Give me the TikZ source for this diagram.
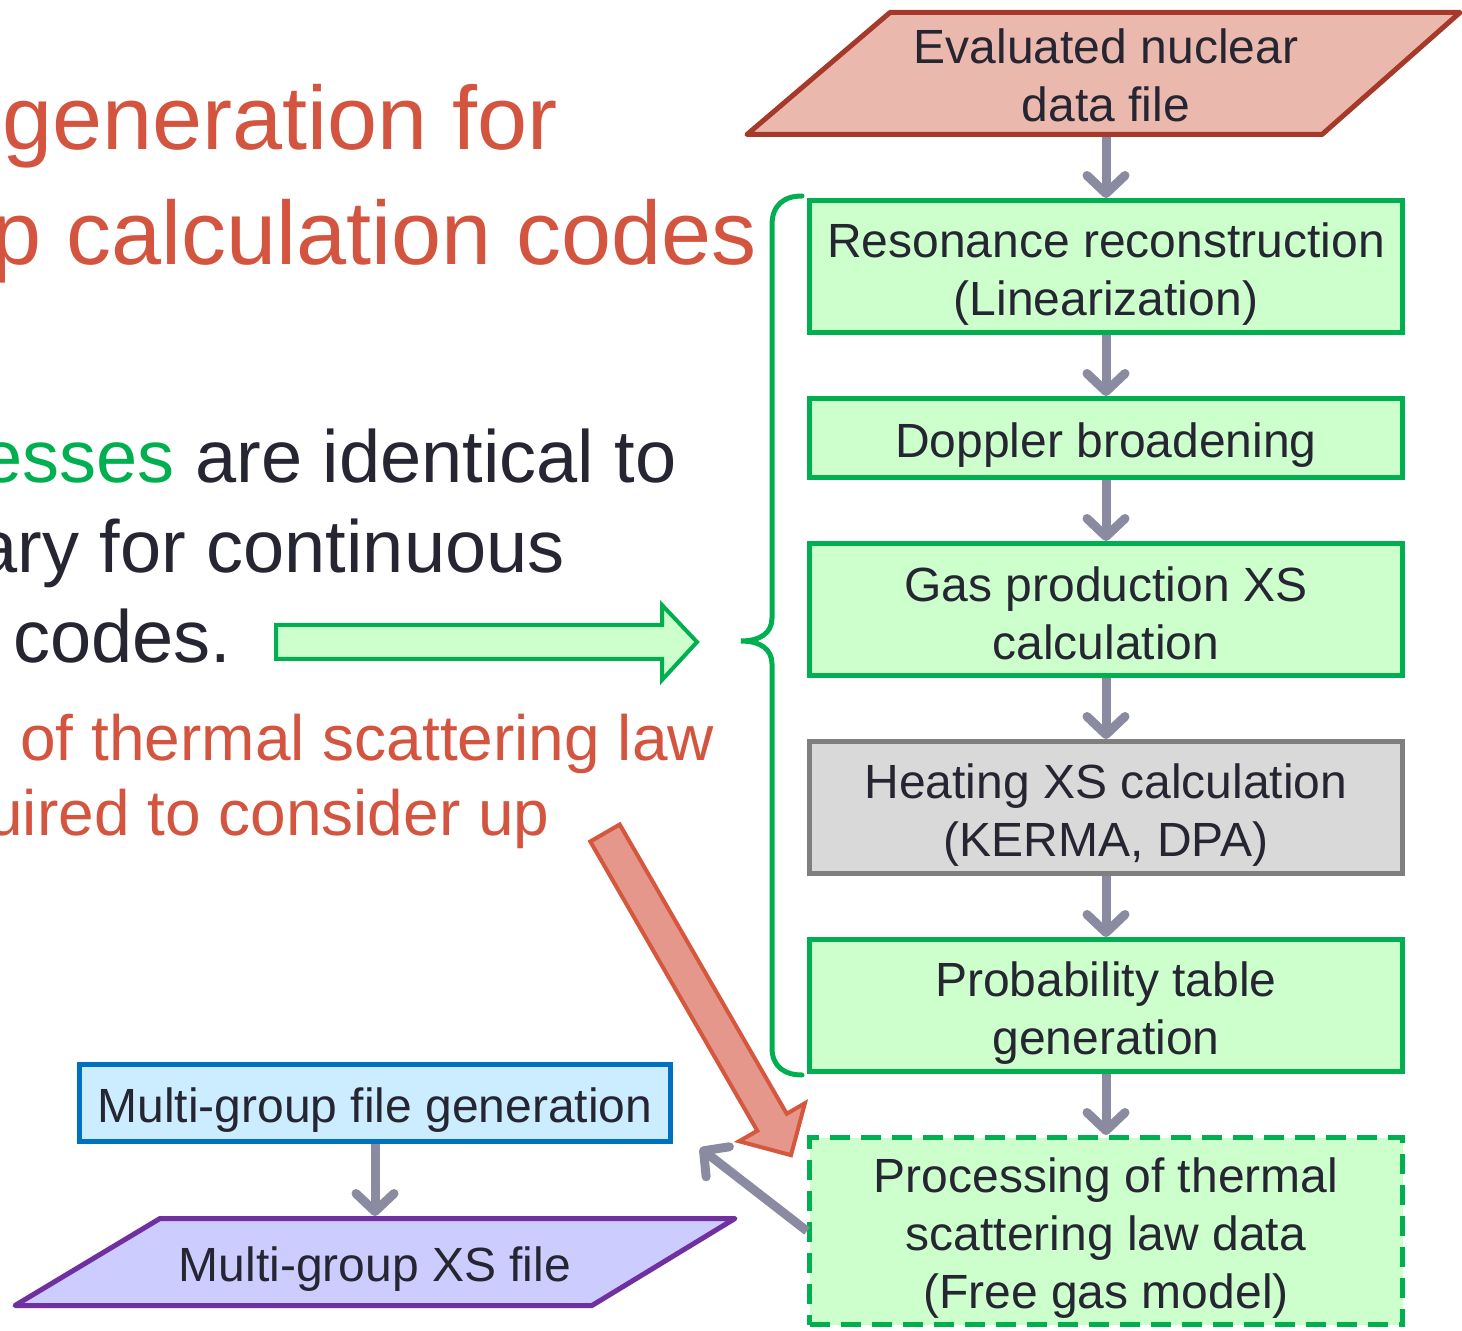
\documentclass[tikz,border=0pt]{standalone}
\usepackage{fontspec}
\setmainfont{Liberation Sans}
\usepackage{tikz}
\usetikzlibrary{
  positioning,
  arrows.meta,
  backgrounds
}
\definecolor{inkdark}{HTML}{262632}
\definecolor{titlered}{HTML}{D4553F}
\definecolor{boxgreen}{HTML}{00B050}
\definecolor{procfill}{HTML}{CCFFCC}
\definecolor{boxgray}{HTML}{7F7F7F}
\definecolor{grayfill}{HTML}{D9D9D9}
\definecolor{flowgray}{HTML}{8A8BA1}
\definecolor{endfdraw}{HTML}{A5392A}
\definecolor{endffill}{HTML}{EBB8AE}
\definecolor{mgblue}{HTML}{0070C0}
\definecolor{mgfill}{HTML}{CCECFF}
\definecolor{mgxsdraw}{HTML}{7030A0}
\definecolor{mgxsfill}{HTML}{CCCCFF}
\definecolor{warnred}{HTML}{D5573D}
\definecolor{warnfill}{HTML}{E4978A}
% strut that pushes box text down a little
\newcommand{\lift}{\rule{0pt}{24.5pt}}
\tikzset{
  node distance=30.5pt,
  every node/.style={font=\fontsize{24}{29}\selectfont, text=inkdark},
  proc/.style={rectangle, draw=boxgreen, fill=procfill, line width=2.5pt,
    minimum width=296.5pt, minimum height=66pt, align=center, inner sep=2pt},
  tslbox/.style={proc, dash pattern=on 10pt off 5.5pt},
  filetext/.style={rectangle, align=center, inner sep=0pt, outer sep=0pt},
  endfshape/.style={draw=endfdraw, fill=endffill, line width=2.5pt, line join=round},
  mgxsshape/.style={draw=mgxsdraw, fill=mgxsfill, line width=2.5pt, line join=round},
  flow/.style={draw=flowgray, line width=4.5pt,
    -{Straight Barb[length=9pt, width=19pt, round]}},
  bracegreen/.style={draw=boxgreen, line width=2.5pt, line cap=round},
  greenblock/.style={draw=boxgreen, fill=procfill, line width=2pt},
  redblock/.style={draw=warnred, fill=warnfill, line width=2pt},
  titletext/.style={anchor=base west, inner sep=0pt, text=titlered,
    font=\fontsize{45}{54}\selectfont},
  bodytext/.style={anchor=base west, inner sep=0pt,
    font=\fontsize{37}{44}\selectfont},
  notetext/.style={anchor=base west, inner sep=0pt, text=titlered,
    font=\fontsize{32}{38}\selectfont}
}
\begin{document}
\begin{tikzpicture}[x=0.5pt, y=-0.5pt]
  \useasboundingbox (0,0) rectangle (1462,1331);
  \clip (0,0) rectangle (1462,1331);

  % slide text, cut off at the left
  \node[titletext] (head1) at (2,150) {generation for};
  \node[titletext] (head2) at (-9,265) {p calculation codes};
  \node[bodytext] (line1) at (-19,483) {\textcolor{boxgreen}{esses} are identical to};
  \node[bodytext] (line2) at (-24,573) {ary for continuous};
  \node[bodytext] (line3) at (13,662) {codes.};
  \node[notetext] (note1) at (20,760) {of thermal scattering law};
  \node[notetext] (note2) at (-13,835) {uired to consider up};

  % processing chain
  \node[proc] (res) at (1106,266.5) {\lift Resonance reconstruction\\(Linearization)};
  \node[proc, below=of res, minimum height=39.5pt] (dop) {\lift Doppler broadening};
  \node[proc, below=of dop] (gas) {\rule{0pt}{21pt}Gas production XS\\calculation};
  \node[proc, below=of gas, draw=boxgray, fill=grayfill] (heat) {\lift Heating XS calculation\\(KERMA, DPA)};
  \node[proc, below=of heat] (ptab) {\lift Probability table\\generation};
  \node[tslbox, below=of ptab, minimum height=93.5pt] (tsl) {\lift Processing of thermal\\scattering law data\\(Free gas model)};
  \node[filetext, above=of res, minimum height=63.5pt] (endf) {\rule{0pt}{19.5pt}Evaluated nuclear\\data file};

  \node[proc, draw=mgblue, fill=mgfill, minimum width=295.5pt, minimum height=38.5pt] (mgen) at (375,1103) {\lift Multi-group file generation};
  \node[filetext, below=36pt of mgen, minimum height=46pt] (mgxs) {\lift Multi-group XS file};
  \coordinate (back) at (700,1148);

  \begin{scope}[on background layer]
    \draw[endfshape, shift={(endf.center)}] (-359,61) -- (216,61) -- (354,-61) -- (-216,-61) -- cycle;
    \draw[mgxsshape, shift={(mgxs.center)}] (-360,43.5) -- (217,43.5) -- (360,-43.5) -- (-215,-43.5) -- cycle;
  \end{scope}

  \draw[flow] (endf) -- (res);
  \foreach \a/\b in {res/dop, dop/gas, gas/heat, heat/ptab, ptab/tsl}
    \draw[flow] (\a) -- (\b);
  \draw[flow] (mgen) -- (mgxs);
  \draw[flow] (tsl.west) -- (back);

  % brace round the identical steps
  \draw[bracegreen] (802,196) .. controls (784,196) and (772,205) .. (772,225)
    -- (772,618) .. controls (772,633) and (760,641) .. (741,641)
    .. controls (760,641) and (772,649) .. (772,664)
    -- (772,1048) .. controls (772,1066) and (784,1075) .. (802,1075);

  % block arrows
  \draw[greenblock] (276,625) -- (662,625) -- (662,605) -- (697,642)
    -- (662,680) -- (662,659) -- (276,659) -- cycle;
  \draw[redblock, shift={(605,833)}, rotate=-60] (0,-17) -- (334,-17) -- (334,-38)
    -- (372,0) -- (334,38) -- (334,17) -- (0,17) -- cycle;
\end{tikzpicture}
\end{document}
